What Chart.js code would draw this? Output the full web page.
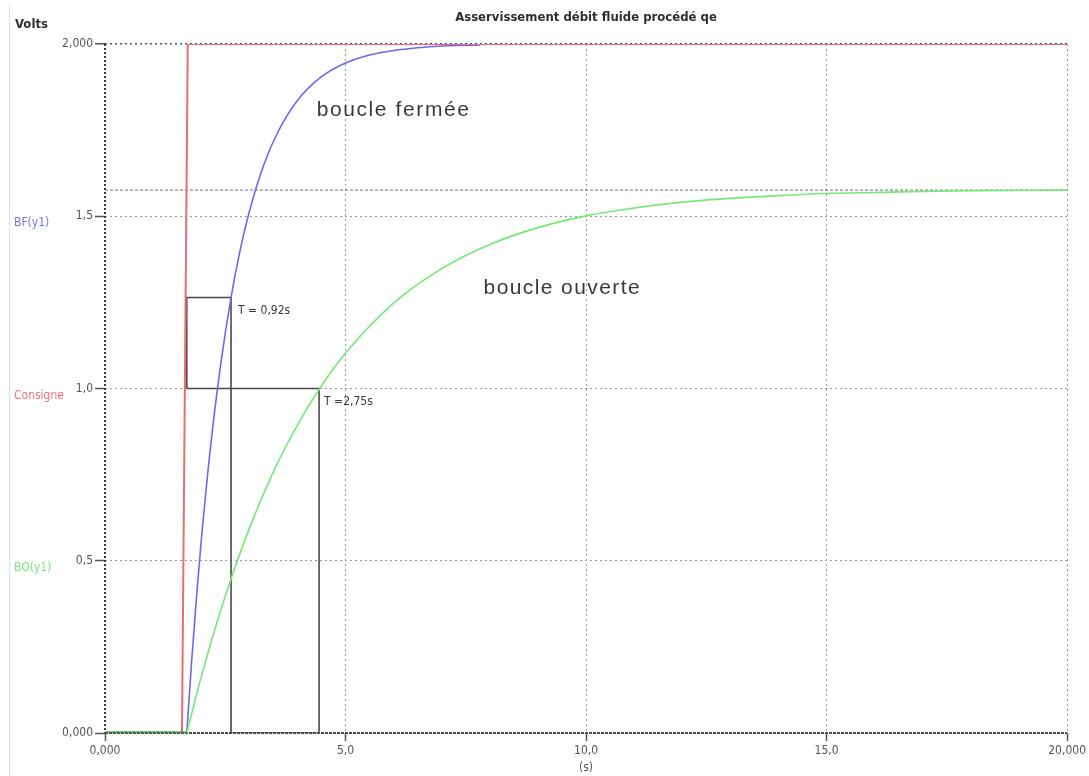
<!DOCTYPE html>
<html>
<head>
<meta charset="utf-8">
<script src="https://cdn.jsdelivr.net/npm/chart.js@4.4.0/dist/chart.umd.min.js"></script>
<style>
  html, body { margin: 0; padding: 0; background: #ffffff; }
  #wrap { position: relative; width: 1089px; height: 776px; }
</style>
</head>
<body>
<div id="wrap"><canvas id="c" width="1089" height="776"></canvas></div>
<script>
// Consigne (step input)
const timeConsigne = [0, 1.6, 1.72, 20];
const valuesConsigne = [0, 0, 2, 2];

// Rest level of both responses before the step
const timeRest = [0, 1.7];
const valuesRest = [0, 0];

// Boucle fermée response BF(y1), from the start of its rise
const timeBF = [1.7, 1.8, 1.9, 2.0, 2.2, 2.4, 2.62, 2.8, 3.0, 3.3, 3.6, 4.0, 4.5, 5.0, 5.5, 6.0, 6.5, 7.0, 7.8];
const valuesBF = [0, 0.206, 0.391, 0.557, 0.839, 1.065, 1.264, 1.395, 1.513, 1.649, 1.746, 1.836, 1.905, 1.945, 1.968, 1.981, 1.989, 1.994, 1.997];

// Boucle ouverte response BO(y1), from the start of its rise
const timeBO = [1.7, 2.0, 2.5, 3.0, 3.5, 4.0, 4.45, 5, 6, 7, 8, 9, 10, 11, 12, 13, 14, 15, 16, 17, 18, 20];
const valuesBO = [0, 0.163, 0.398, 0.594, 0.758, 0.894, 0.997, 1.103, 1.248, 1.348, 1.418, 1.467, 1.501, 1.524, 1.541, 1.552, 1.560, 1.566, 1.569, 1.572, 1.574, 1.576];

// Final value of the open-loop response
const finalBO = 1.576;

// Time-constant construction (T = 0,92 s and T = 2,75 s)
const boxBF_t = [1.7, 1.7, 2.62, 2.62];
const boxBF_v = [1.0, 1.264, 1.264, 0];
const boxBO_t = [1.7, 4.45, 4.45, 2.62];
const boxBO_v = [1.0, 1.0, 0, 0];

// Tick labels
const xTickLabels = ['0,000', '5,0', '10,0', '15,0', '20,000'];
const yTickLabels = ['0,000', '0,5', '1,0', '1,5', '2,000'];

const NARROW = '"Liberation Sans Narrow", "DejaVu Sans Condensed", "Arial Narrow", sans-serif';
const SANS = '"Liberation Sans", Arial, sans-serif';

const pts = (xs, ys) => xs.map((x, i) => ({ x: x, y: ys[i] }));

const annotations = {
  id: 'annotations',
  beforeDatasetsDraw(chart) {
    const { ctx, chartArea: a } = chart;
    ctx.save();
    // faint frame line on the far left
    ctx.strokeStyle = '#dcdcf6';
    ctx.lineWidth = 1;
    ctx.beginPath();
    ctx.moveTo(9.5, 5);
    ctx.lineTo(9.5, 776);
    ctx.stroke();
    // y axis: dotted dark line
    ctx.strokeStyle = '#3c3c3c';
    ctx.lineWidth = 2;
    ctx.setLineDash([2, 2]);
    ctx.beginPath();
    ctx.moveTo(a.left, a.top);
    ctx.lineTo(a.left, a.bottom);
    ctx.stroke();
    // x axis: dashed dark line
    ctx.strokeStyle = '#4a4a4a';
    ctx.setLineDash([3, 1]);
    ctx.beginPath();
    ctx.moveTo(a.left, a.bottom);
    ctx.lineTo(a.right, a.bottom);
    ctx.stroke();
    ctx.setLineDash([]);
    ctx.restore();
  },
  afterDraw(chart) {
    const { ctx, scales: { x, y } } = chart;
    ctx.save();
    ctx.textBaseline = 'middle';

    // title
    ctx.fillStyle = '#2e2e2e';
    ctx.font = 'bold 13px ' + NARROW;
    ctx.textAlign = 'center';
    ctx.fillText('Asservissement débit fluide procédé qe', 586, 18);

    // unit label
    ctx.textAlign = 'left';
    ctx.font = 'bold 13px ' + NARROW;
    ctx.fillText('Volts', 15, 25);

    // series names on the left
    ctx.font = '12px ' + NARROW;
    ctx.fillStyle = '#7474ec';
    ctx.fillText('BF(y1)', 14, y.getPixelForValue(1.5) + 7);
    ctx.fillStyle = '#f2707c';
    ctx.fillText('Consigne', 14, y.getPixelForValue(1.0) + 7);
    ctx.fillStyle = '#78e878';
    ctx.fillText('BO(y1)', 14, y.getPixelForValue(0.5) + 7);

    // curve names
    ctx.fillStyle = '#3a3a3a';
    ctx.font = '21px ' + SANS;
    ctx.letterSpacing = '1.6px';
    ctx.textBaseline = 'alphabetic';
    ctx.fillText('boucle fermée', x.getPixelForValue(4.4), y.getPixelForValue(1.79));
    ctx.letterSpacing = '1.4px';
    ctx.fillText('boucle ouverte', x.getPixelForValue(7.87), y.getPixelForValue(1.275));
    ctx.letterSpacing = '0px';

    // time constants
    ctx.textBaseline = 'middle';
    ctx.font = '12px ' + NARROW;
    ctx.fillStyle = '#3a3a3a';
    ctx.fillText('T = 0,92s', x.getPixelForValue(2.62) + 7, y.getPixelForValue(1.264) + 13);
    ctx.fillText('T =2,75s', x.getPixelForValue(4.45) + 5, y.getPixelForValue(1.0) + 13);

    // x unit
    ctx.fillStyle = '#555';
    ctx.textAlign = 'center';
    ctx.fillText('(s)', x.getPixelForValue(10), 768);
    ctx.restore();
  }
};

new Chart(document.getElementById('c'), {
  type: 'scatter',
  data: {
    datasets: [
      {
        label: 'Repos',
        data: pts(timeRest, valuesRest),
        showLine: true,
        borderColor: '#2f8a2f',
        borderWidth: 3,
        pointRadius: 0,
        tension: 0,
        order: 0
      },
      {
        label: 'Consigne',
        data: pts(timeConsigne, valuesConsigne),
        showLine: true,
        borderColor: '#f06a72',
        borderWidth: 2,
        pointRadius: 0,
        tension: 0,
        order: 2
      },
      {
        label: 'BF(y1)',
        data: pts(timeBF, valuesBF),
        showLine: true,
        borderColor: '#6a6af0',
        borderWidth: 1.6,
        pointRadius: 0,
        cubicInterpolationMode: 'monotone',
        order: 3
      },
      {
        label: 'BO(y1)',
        data: pts(timeBO, valuesBO),
        showLine: true,
        borderColor: '#74ea74',
        borderWidth: 1.6,
        pointRadius: 0,
        cubicInterpolationMode: 'monotone',
        order: 1
      },
      {
        label: 'BO final',
        data: [{ x: 0, y: finalBO }, { x: 20, y: finalBO }],
        showLine: true,
        borderColor: '#6e6e6e',
        borderWidth: 1,
        borderDash: [3, 2],
        pointRadius: 0,
        order: 4
      },
      {
        label: 'T BF',
        data: pts(boxBF_t, boxBF_v),
        showLine: true,
        borderColor: '#4a4a4a',
        borderWidth: 1.6,
        pointRadius: 0,
        tension: 0,
        order: 5
      },
      {
        label: 'T BO',
        data: pts(boxBO_t, boxBO_v),
        showLine: true,
        borderColor: '#4a4a4a',
        borderWidth: 1.6,
        pointRadius: 0,
        tension: 0,
        order: 5
      }
    ]
  },
  options: {
    responsive: false,
    animation: false,
    devicePixelRatio: 1,
    layout: { padding: { top: 44, right: 21, left: 0, bottom: 0 } },
    plugins: {
      legend: { display: false },
      tooltip: { enabled: false }
    },
    elements: { line: { clip: 4 } },
    scales: {
      x: {
        type: 'linear',
        min: 0,
        max: 20,
        afterFit(scale) { scale.height = 43; },
        afterBuildTicks(scale) { scale.ticks = [0, 5, 10, 15, 20].map(v => ({ value: v })); },
        ticks: {
          callback: (v, i) => xTickLabels[i],
          color: '#555',
          font: { family: NARROW, size: 12 },
          padding: 3,
          maxRotation: 0
        },
        grid: {
          color: c => (c.tick && c.tick.value === 0) ? 'rgba(0,0,0,0)' : '#9a9a9a',
          lineWidth: 1,
          tickLength: 8,
          tickColor: '#555',
          tickWidth: 1.5
        },
        border: { display: false, dash: [2, 3] }
      },
      y: {
        type: 'linear',
        min: 0,
        max: 2,
        afterFit(scale) { scale.width = 105; },
        afterBuildTicks(scale) { scale.ticks = [0, 0.5, 1, 1.5, 2].map(v => ({ value: v })); },
        ticks: {
          callback: (v, i) => yTickLabels[i],
          color: '#555',
          font: { family: NARROW, size: 12 },
          padding: 2
        },
        grid: {
          color: c => {
            if (!c.tick) return '#9a9a9a';
            if (c.tick.value === 0) return 'rgba(0,0,0,0)';
            if (c.tick.value === 2) return '#555';
            return '#9a9a9a';
          },
          lineWidth: c => (c.tick && c.tick.value === 2) ? 1.5 : 1,
          tickLength: 10,
          tickColor: '#555',
          tickWidth: 1.5
        },
        border: { display: false, dash: [2, 3] }
      }
    }
  },
  plugins: [annotations]
});
</script>
</body>
</html>
